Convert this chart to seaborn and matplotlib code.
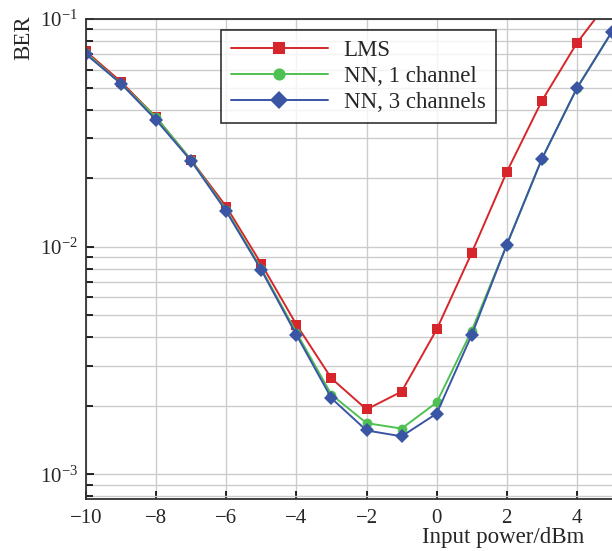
import seaborn as sns
import matplotlib.pyplot as plt
import matplotlib.ticker as mticker
import pandas as pd

# Input power (dBm)
power = [-10, -9, -8, -7, -6, -5, -4, -3, -2, -1, 0, 1, 2, 3, 4, 5]

# BER values
ber_lms = [0.072, 0.053, 0.037, 0.024, 0.015, 0.0084, 0.00455, 0.00264,
           0.00193, 0.00231, 0.00433, 0.0094, 0.0213, 0.0437, 0.0785, 0.125]
ber_nn1 = [0.071, 0.052, 0.037, 0.024, 0.0145, 0.0080, 0.0042, 0.00224,
           0.00168, 0.00159, 0.00207, 0.00428, 0.0102, 0.0243, 0.0497, 0.088]
ber_nn3 = [0.070, 0.052, 0.036, 0.0238, 0.0143, 0.0079, 0.0041, 0.00216,
           0.00156, 0.00147, 0.00185, 0.0041, 0.0102, 0.0243, 0.0497, 0.088]

labels = ["LMS", "NN, 1 channel", "NN, 3 channels"]
colors = {"LMS": "#d7262b", "NN, 1 channel": "#4fc152", "NN, 3 channels": "#3b55a5"}
markers = {"LMS": "s", "NN, 1 channel": "o", "NN, 3 channels": "D"}

rows = []
for name, vals in zip(labels, [ber_lms, ber_nn1, ber_nn3]):
    for p, v in zip(power, vals):
        rows.append({"Power": p, "BER": v, "Method": name})
df = pd.DataFrame(rows)

sns.set_style("whitegrid")
plt.rcParams['font.family'] = ['Liberation Serif', 'DejaVu Serif']
plt.rcParams['mathtext.fontset'] = 'stix'

fig = plt.figure(figsize=(6.12, 5.51), dpi=100)
ax = fig.add_axes([86 / 612, 52 / 551, 526 / 612, 480 / 551])

sns.lineplot(data=df, x="Power", y="BER", hue="Method", style="Method",
             palette=colors, markers=markers, dashes=False, markersize=7,
             markeredgewidth=0, linewidth=1.4, ax=ax, legend=True)

ax.set_yscale("log")
ax.set_xlim(-10, 5)
ax.set_ylim(7.8e-4, 0.1)
ax.set_xticks([-10, -8, -6, -4, -2, 0, 2, 4])
ax.set_xticklabels(["\u221210", "\u22128", "\u22126", "\u22124", "\u22122", "0", "2", "4"])
ax.yaxis.set_major_locator(mticker.LogLocator(base=10, numticks=10))
ax.yaxis.set_minor_locator(mticker.LogLocator(base=10, subs=range(2, 10), numticks=20))
ax.yaxis.set_minor_formatter(mticker.NullFormatter())

ax.grid(which="major", color="#cccccc", linewidth=1.0)
ax.grid(which="minor", color="#cccccc", linewidth=1.0)
ax.tick_params(axis="both", which="both", direction="in", labelsize=15,
               left=True, bottom=True, color="black")
ax.tick_params(axis="both", which="major", length=6, width=1.2)
ax.tick_params(axis="y", which="minor", length=5, width=1.2)
ax.tick_params(axis="x", pad=7)
ax.tick_params(axis="y", pad=6)

for side in ["left", "bottom", "top"]:
    ax.spines[side].set_color("#333333")
    ax.spines[side].set_linewidth(1.3)
ax.spines["right"].set_visible(False)

ax.set_xlabel("")
ax.set_ylabel("")
fig.text(503 / 612, 8 / 551, "Input power/dBm", fontsize=16.5, ha="center", va="baseline")
fig.text(24 / 612, 1 - 15 / 551, "BER", fontsize=16.5, rotation=90, ha="center", va="top")

# legend uses the plotted lines so markers match the data markers
handles = [line for line in ax.get_lines() if line.get_label() in labels]
leg = ax.legend(handles=handles, labels=labels, loc="upper left",
                bbox_to_anchor=(0.2567, 0.977), fontsize=16.5, markerscale=1.25,
                frameon=True, fancybox=False, edgecolor="black", handlelength=4.2,
                borderpad=0.45, labelspacing=0.2, handletextpad=0.7,
                borderaxespad=0)
leg.get_frame().set_linewidth(1.2)

fig.savefig("out.png", dpi=100)
